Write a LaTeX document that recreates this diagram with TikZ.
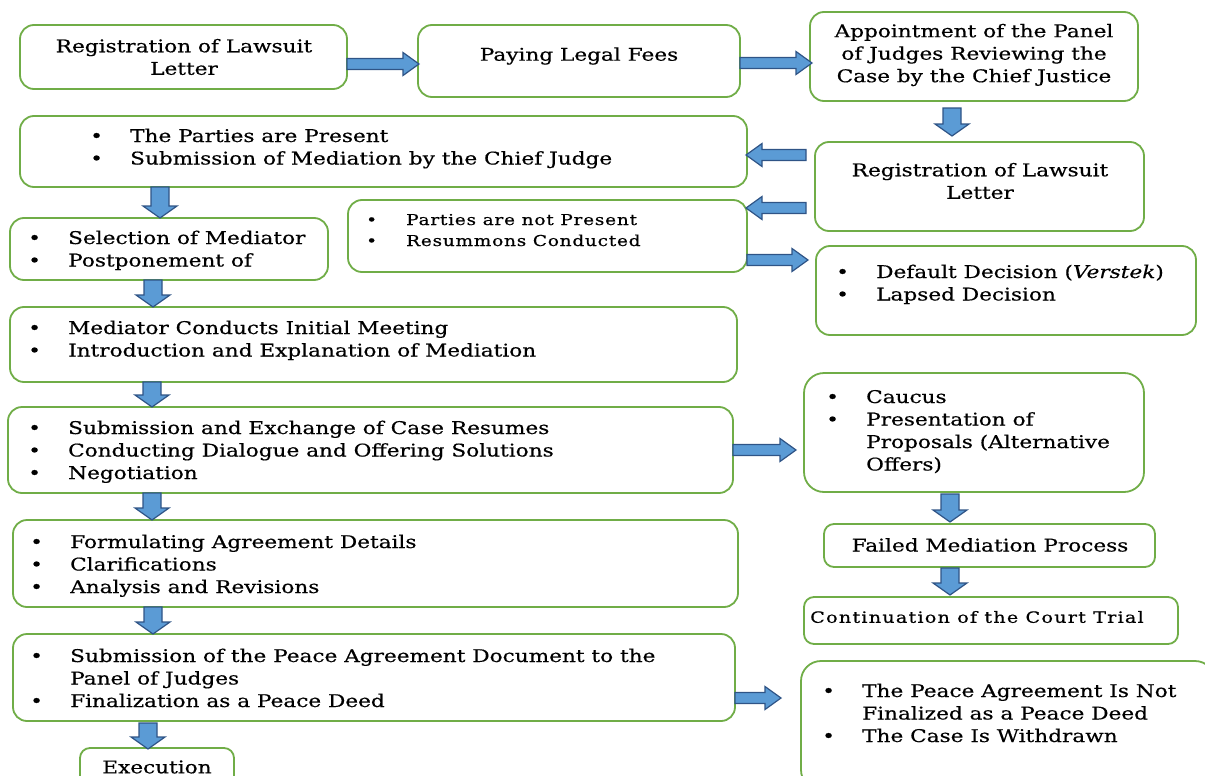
\documentclass[tikz,border=0pt]{standalone}
\usepackage{fontspec}
\setmainfont{DejaVu Serif}[FakeStretch=1.235, FakeBold=0.5]
\usetikzlibrary{calc}
\definecolor{boxgreen}{HTML}{70AD47}
\definecolor{arrfill}{HTML}{5B9BD5}
\definecolor{arrline}{HTML}{2F5486}
\newcommand\fs{\fontsize{17.5}{22.5}\selectfont}
\newcommand\fsg{\fontsize{15}{21}\selectfont\addfontfeature{LetterSpace=5}}
\newcommand\fsm{\fontsize{15.5}{20}\selectfont\addfontfeature{LetterSpace=8}}
\newcommand\bl{\makebox[40pt][l]{\textbullet}}
\newcommand\ind{\hspace*{40pt}}
\tikzset{
  box/.style={draw=boxgreen, line width=1.8pt, rounded corners=14pt, fill=white, inner sep=0pt, outer sep=0pt, anchor=north west},
  sbox/.style={box, rounded corners=10pt},
  ctxt/.style={inner sep=0pt, align=center, font=\fs},
  lst/.style={inner sep=0pt, anchor=base west, font=\fs},
  barrow/.style={fill=arrfill, draw=arrline, line width=1.2pt, line join=miter}
}
% block arrow: #1 shaft half-width, #2 head half-width, #3 head length, #4 start, #5 tip
\newcommand\blockarr[5]{%
  \draw[barrow] let \p1=#4, \p2=#5, \p3=($(\p2)!#3!(\p1)$) in
    ($(\p1)!#1!90:(\p2)$) -- ($(\p3)!#1!90:(\p2)$) -- ($(\p3)!#2!90:(\p2)$) -- (\p2)
    -- ($(\p3)!#2!-90:(\p2)$) -- ($(\p3)!#1!-90:(\p2)$) -- ($(\p1)!#1!-90:(\p2)$) -- cycle;}
\newcommand\harr[2]{\blockarr{5.5pt}{11.5pt}{16pt}{#1}{#2}}
\newcommand\varr[2]{\blockarr{9pt}{17pt}{12pt}{#1}{#2}}
\begin{document}
\begin{tikzpicture}[x=1pt,y=-1pt]
\useasboundingbox (0,0) rectangle (1205,776);
\clip (0,0) rectangle (1205,776);
% boxes
\node[box, minimum width=327pt, minimum height=64pt] (A) at (20,25) {};
\node[box, minimum width=322pt, minimum height=72pt] (B) at (418,25) {};
\node[box, minimum width=328pt, minimum height=89pt] (C) at (810,12) {};
\node[box, minimum width=727pt, minimum height=71pt] (D) at (20,116) {};
\node[box, minimum width=329pt, minimum height=89pt] (E) at (815,142) {};
\node[box, minimum width=318pt, minimum height=62pt] (F) at (10,218) {};
\node[box, minimum width=399pt, minimum height=72pt] (G) at (348,200) {};
\node[box, minimum width=380pt, minimum height=89pt] (H) at (816,246) {};
\node[box, minimum width=727pt, minimum height=75pt] (I) at (10,307) {};
\node[box, minimum width=725pt, minimum height=86pt] (J) at (8,407) {};
\node[box, rounded corners=20pt, minimum width=340pt, minimum height=119pt] (K) at (804,373) {};
\node[sbox, minimum width=331pt, minimum height=43pt] (L) at (824,524) {};
\node[sbox, minimum width=374pt, minimum height=47pt] (M) at (804,597) {};
\node[box, minimum width=725pt, minimum height=87pt] (N) at (13,520) {};
\node[box, minimum width=722pt, minimum height=87pt] (O) at (13,634) {};
\node[box, rounded corners=20pt, minimum width=414pt, minimum height=129pt] (P) at (801,661) {};
\node[sbox, minimum width=154pt, minimum height=52pt] (Q) at (80,748) {};
% texts
\node[ctxt] (At) at (184,57) {Registration of Lawsuit\\Letter};
\node[ctxt] (Bt) at (579,56) {Paying Legal Fees};
\node[ctxt] (Ct) at (974,55) {Appointment of the Panel\\of Judges Reviewing the\\Case by the Chief Justice};
\node[ctxt] (Et) at (980,181) {Registration of Lawsuit\\Letter};
\node[ctxt] (Lt) at (990,545) {Failed Mediation Process};
\node[ctxt, font=\fsm] (Mt) at (977,617) {Continuation of the Court Trial};
\node[ctxt] (Qt) at (157,767) {Execution};
\node[lst] (Dt) at (90,142) {\begin{tabular}[t]{@{}l@{}}\bl The Parties are Present\\ \bl Submission of Mediation by the Chief Judge\end{tabular}};
\node[lst] (Ft) at (28,244) {\begin{tabular}[t]{@{}l@{}}\bl Selection of Mediator\\ \bl Postponement of\end{tabular}};
\node[lst, font=\fsg] (Gt) at (366,225) {\begin{tabular}[t]{@{}l@{}}\bl Parties are not Present\\ \bl Resummons Conducted\end{tabular}};
\node[lst] (Ht) at (836,278) {\begin{tabular}[t]{@{}l@{}}\bl Default Decision (\textit{Verstek})\\ \bl Lapsed Decision\end{tabular}};
\node[lst] (It) at (28,334) {\begin{tabular}[t]{@{}l@{}}\bl Mediator Conducts Initial Meeting\\ \bl Introduction and Explanation of Mediation\end{tabular}};
\node[lst] (Jt) at (28,434) {\begin{tabular}[t]{@{}l@{}}\bl Submission and Exchange of Case Resumes\\ \bl Conducting Dialogue and Offering Solutions\\ \bl Negotiation\end{tabular}};
\node[lst] (Kt) at (826,403) {\begin{tabular}[t]{@{}l@{}}\bl Caucus\\ \bl Presentation of\\ \ind Proposals (Alternative\\ \ind Offers)\end{tabular}};
\node[lst] (Nt) at (30,548) {\begin{tabular}[t]{@{}l@{}}\bl Formulating Agreement Details\\ \bl Clarifications\\ \bl Analysis and Revisions\end{tabular}};
\node[lst] (Ot) at (30,662) {\begin{tabular}[t]{@{}l@{}}\bl Submission of the Peace Agreement Document to the\\ \ind Panel of Judges\\ \bl Finalization as a Peace Deed\end{tabular}};
\node[lst] (Pt) at (822,697) {\begin{tabular}[t]{@{}l@{}}\bl The Peace Agreement Is Not\\ \ind Finalized as a Peace Deed\\ \bl The Case Is Withdrawn\end{tabular}};
% arrows
\harr{(A.east |- 0,64)}{($(B.west |- 0,64)+(1,0)$)}
\harr{(B.east |- 0,63)}{($(C.west |- 0,63)+(2,0)$)}
\varr{($(C.south -| 952,0)+(0,7)$)}{($(E.north -| 952,0)+(0,-6)$)}
\harr{($(E.west |- 0,155)+(-9,0)$)}{($(D.east |- 0,155)+(-1,0)$)}
\harr{($(E.west |- 0,208)+(-9,0)$)}{($(G.east |- 0,208)+(-1,0)$)}
\harr{(G.east |- 0,260)}{($(H.west |- 0,260)+(-8,0)$)}
\varr{(D.south -| 160,0)}{(F.north -| 160,0)}
\varr{(F.south -| 153,0)}{(I.north -| 153,0)}
\varr{(I.south -| 152,0)}{(J.north -| 152,0)}
\harr{(J.east |- 0,450)}{($(K.west |- 0,450)+(-8,0)$)}
\varr{($(K.south -| 950,0)+(0,2)$)}{($(L.north -| 950,0)+(0,-2)$)}
\varr{($(L.south -| 950,0)+(0,1)$)}{($(M.north -| 950,0)+(0,-2)$)}
\varr{(J.south -| 152,0)}{(N.north -| 152,0)}
\varr{(N.south -| 153,0)}{(O.north -| 153,0)}
\varr{($(O.south -| 148,0)+(0,2)$)}{($(Q.north -| 148,0)+(0,1)$)}
\harr{(O.east |- 0,698)}{($(P.west |- 0,698)+(-20,0)$)}
\end{tikzpicture}
\end{document}
